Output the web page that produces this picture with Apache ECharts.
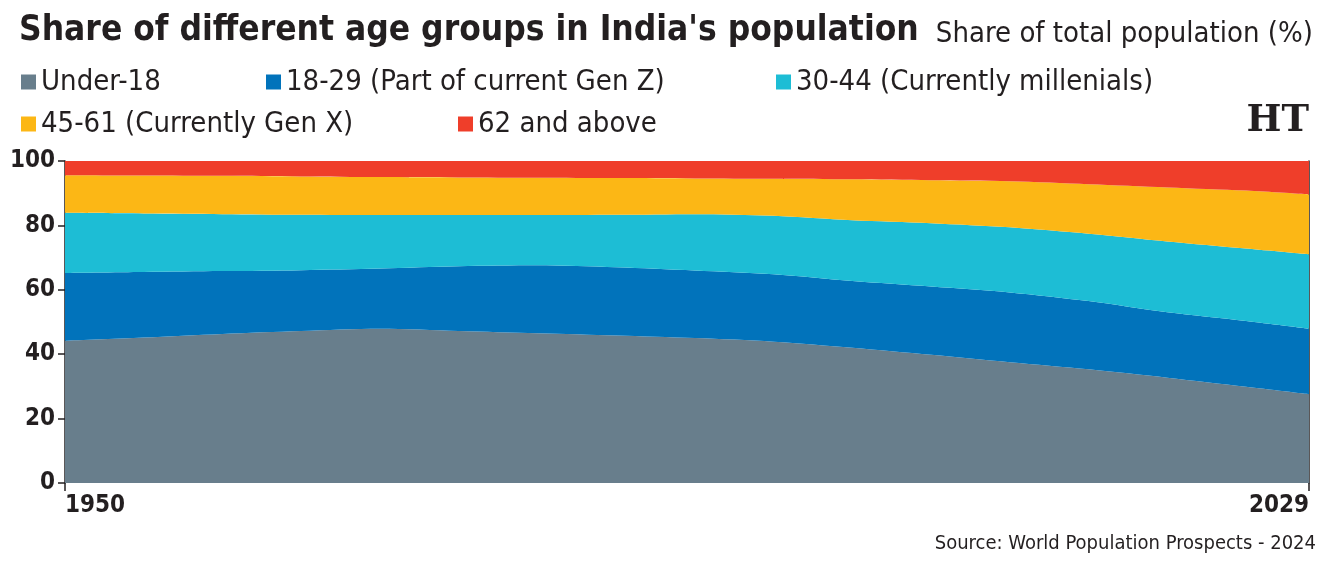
<!DOCTYPE html>
<html>
<head>
<meta charset="utf-8">
<script src="https://cdn.jsdelivr.net/npm/echarts@6/dist/echarts.min.js"></script>
<style>
html,body{margin:0;padding:0;background:#fff;}
#chart{width:1331px;height:565px;}
</style>
</head>
<body>
<div id="chart"></div>
<script>
const years = [1950,1955,1960,1965,1970,1975,1980,1985,1990,1995,2000,2005,2010,2015,2020,2025,2029];
const under18 = [44.2,45.2,46.3,47.2,47.9,47.2,46.5,45.8,45.0,43.9,42.0,39.8,37.5,35.3,32.7,29.9,27.6];
const age18to29 = [21.0,20.3,19.5,18.9,18.7,20.1,21.1,21.2,21.0,20.9,20.7,21.2,21.7,21.2,20.3,20.4,20.3];
const age30to44 = [18.7,18.2,17.7,17.2,16.6,15.9,15.6,16.3,17.5,18.2,18.9,19.7,20.2,20.9,22.0,22.5,23.1];
const age45to61 = [11.7,11.8,11.9,11.9,11.8,11.7,11.6,11.4,11.1,11.5,12.7,13.3,14.3,15.4,16.8,18.0,18.6];
const age62plus = [4.4,4.5,4.6,4.8,5.0,5.1,5.2,5.3,5.4,5.5,5.7,6.0,6.3,7.2,8.2,9.2,10.4];
const seriesNames = ['Under-18','18-29 (Part of current Gen Z)','30-44 (Currently millenials)','45-61 (Currently Gen X)','62 and above'];
const seriesColors = ['#687e8c','#0173bb','#1dbdd5','#fcb715','#ef3e2a'];
const xTickYears = [1950,2029];

const FONT = '"DejaVu Sans Condensed","Liberation Sans Narrow",sans-serif';
const TXT = '#231f20';
const allValues = [under18,age18to29,age30to44,age45to61,age62plus];

const chart = echarts.init(document.getElementById('chart'));

// legend slot text widths (icon 15 + gap 5 added by ECharts)
const slotWidths = [225, 490, null, 417, null];
const rich = {};
slotWidths.forEach((w,i)=>{
  rich['s'+i] = {fontFamily:FONT, fontSize:29, color:TXT, lineHeight:42, height:42};
  if (w) rich['s'+i].width = w;
});

const option = {
  backgroundColor:'#fff',
  animation:false,
  title:[
    {text:"Share of different age groups in India's population", left:14, top:8,
     textStyle:{fontFamily:FONT, fontWeight:'bold', fontSize:35, color:TXT}},
    {text:'Share of total population (%)', right:13, top:15,
     textStyle:{fontFamily:FONT, fontWeight:'normal', fontSize:29, color:TXT}}
  ],
  legend:{
    data:seriesNames, left:16, top:56, width:1250, orient:'horizontal',
    icon:'rect', itemWidth:15, itemHeight:15, itemGap:0, selectedMode:false,
    formatter:name=>'{s'+seriesNames.indexOf(name)+'|'+name+'}',
    textStyle:{fontFamily:FONT, fontSize:29, color:TXT, rich:rich}
  },
  grid:{left:65, right:22, top:161, bottom:82},
  xAxis:{
    type:'value', min:1950, max:2029,
    axisLine:{show:false},
    splitLine:{show:false},
    axisTick:{show:true, customValues:xTickYears, length:8, lineStyle:{color:TXT, width:1.5}},
    axisLabel:{customValues:xTickYears, fontFamily:FONT, fontWeight:'bold', fontSize:24, color:TXT,
      margin:11, alignMinLabel:'left', alignMaxLabel:'right', formatter:v=>String(v)}
  },
  yAxis:[{
    type:'value', min:0, max:100, interval:20,
    axisLine:{show:true, lineStyle:{color:TXT, width:1.5}},
    axisTick:{show:true, length:7, lineStyle:{color:TXT, width:1.5}},
    splitLine:{show:false},
    axisLabel:{fontFamily:FONT, fontWeight:'bold', fontSize:24, color:TXT, margin:10}
  },{
    type:'value', min:0, max:100, position:'right',
    axisLine:{show:true, lineStyle:{color:TXT, width:1.5}},
    axisTick:{show:false}, axisLabel:{show:false}, splitLine:{show:false}
  }],
  series: allValues.map((vals,i)=>({
    name:seriesNames[i], type:'line', stack:'total', smooth:0.3, symbol:'none',
    color:seriesColors[i],
    lineStyle:{width:0},
    areaStyle:{color:seriesColors[i], opacity:1},
    encode:{x:1, y:0},
    data: years.map((y,j)=>[vals[j], y])
  })),
  graphic:[
    {type:'text', right:22, top:103, style:{text:'HT', font:'bold 37px "DejaVu Serif", serif', fill:TXT}},
    {type:'text', right:15, top:534, style:{text:'Source: World Population Prospects - 2024', font:'20px '+FONT, fill:TXT}}
  ]
};
chart.setOption(option);
</script>
</body>
</html>
